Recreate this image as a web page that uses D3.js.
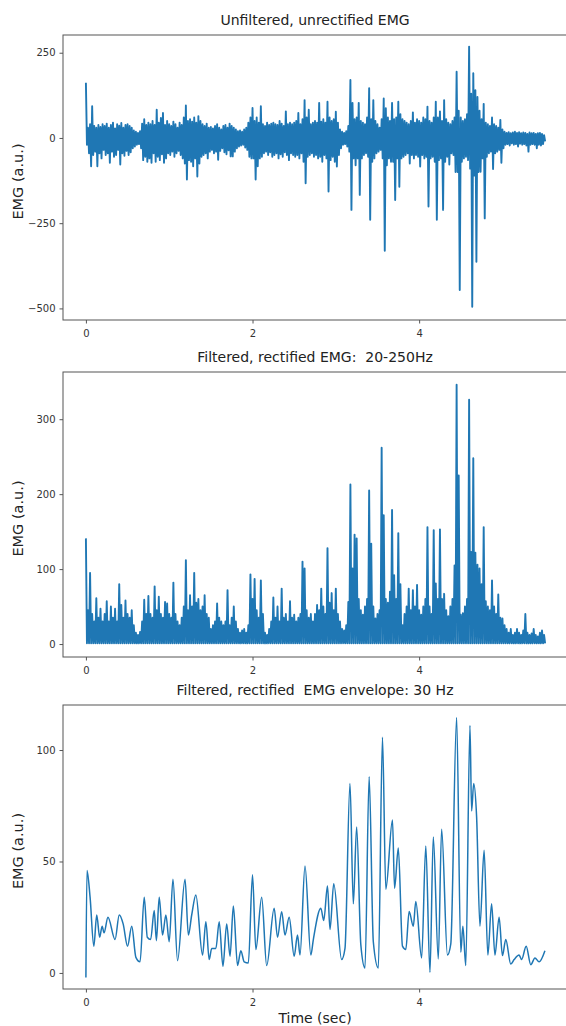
<!DOCTYPE html>
<html lang="en">
  <head>
    <meta charset="utf-8">
    <script src="https://cdn.jsdelivr.net/npm/d3@7"></script>
    <style>
      body { margin: 0; background: #fff; }
      svg text { font-family: "DejaVu Sans", sans-serif; white-space: pre; }
    </style>
  </head>
  <body>
  <script>

    // ---- data ----
    // raw / rectified traces are read per bin of dt seconds
    var dt = 0.025;

    var titles = ['Unfiltered, unrectified EMG',
                  'Filtered, rectified EMG:  20-250Hz',
                  'Filtered, rectified  EMG envelope: 30 Hz'];
    var yLabel = 'EMG (a.u.)';
    var xLabel = 'Time (sec)';

    var xTicks = [0, 2, 4];
    var xTickLabels = ['0', '2', '4'];

    var rawTicks = [250, 0, -250, -500];
    var rawTickLabels = ['250', '0', '\u2212250', '\u2212500'];
    var rectTicks = [0, 100, 200, 300];
    var rectTickLabels = ['0', '100', '200', '300'];
    var envTicks = [0, 50, 100];
    var envTickLabels = ['0', '50', '100'];

    // unfiltered signal: positive and negative excursion in each bin
    var rawHigh = [
      162, 30, 40, 93, 35, 30, 38, 32, 40, 35,
      42, 30, 38, 45, 28, 40, 36, 44, 30, 38,
      40, 35, 30, 22, 18, 15, 20, 42, 55, 38,
      45, 40, 50, 38, 83, 45, 59, 73, 38, 50,
      40, 35, 48, 40, 30, 45, 38, 60, 95, 50,
      55, 48, 60, 45, 64, 50, 40, 35, 42, 30,
      32, 28, 35, 40, 30, 25, 35, 38, 30, 42,
      35, 30, 25, 20, 22, 18, 25, 30, 45, 60,
      88, 50, 60, 45, 93, 40, 35, 45, 38, 42,
      45, 40, 38, 50, 42, 35, 78, 40, 45, 40,
      45, 50, 73, 40, 55, 111, 60, 83, 40, 45,
      50, 45, 103, 48, 55, 45, 106, 60, 50, 55,
      77, 45, 25, 18, 15, 20, 35, 170, 103, 55,
      60, 103, 50, 45, 40, 60, 146, 55, 111, 50,
      40, 30, 55, 116, 87, 60, 50, 103, 55, 60,
      106, 70, 55, 50, 45, 40, 50, 75, 45, 55,
      50, 45, 60, 55, 92, 50, 45, 60, 106, 60,
      78, 50, 111, 55, 45, 40, 50, 60, 194, 80,
      60, 50, 55, 70, 268, 130, 190, 140, 120, 80,
      55, 100, 45, 40, 35, 60, 40, 35, 30, 53,
      25, 18, 15, 17, 14, 16, 18, 15, 17, 14,
      16, 15, 12, 16, 14, 15, 12, 14, 15, 12, 8
    ];
    var rawLow = [
      -20, -45, -83, -50, -40, -83, -45, -60, -35, -50,
      -45, -73, -40, -55, -50, -35, -78, -45, -52, -38,
      -50, -42, -30, -25, -20, -18, -30, -65, -55, -70,
      -60, -73, -45, -70, -55, -65, -48, -73, -60, -45,
      -50, -40, -55, -45, -38, -50, -60, -75, -122, -65,
      -70, -83, -60, -113, -75, -55, -50, -45, -60, -40,
      -35, -45, -40, -64, -38, -30, -42, -48, -36, -54,
      -54, -40, -30, -25, -22, -20, -28, -35, -55, -60,
      -60, -122, -83, -60, -55, -45, -40, -50, -42, -55,
      -50, -45, -60, -48, -55, -42, -50, -65, -45, -50,
      -55, -50, -60, -45, -70, -133, -55, -50, -45, -55,
      -50, -60, -55, -70, -50, -60, -157, -65, -55, -70,
      -84, -50, -30, -20, -18, -25, -40, -211, -60, -80,
      -60, -167, -60, -50, -45, -55, -240, -70, -60, -45,
      -40, -35, -60, -331, -80, -60, -70, -70, -182, -60,
      -143, -60, -55, -50, -45, -75, -50, -60, -50, -55,
      -84, -50, -60, -55, -201, -60, -55, -70, -240, -65,
      -60, -211, -70, -55, -78, -45, -50, -100, -100, -446,
      -70, -60, -55, -65, -90, -495, -110, -363, -100, -99,
      -60, -236, -55, -45, -40, -91, -45, -40, -35, -73,
      -30, -20, -18, -22, -16, -20, -18, -25, -17, -20,
      -18, -22, -40, -20, -18, -20, -30, -20, -22, -18, -10
    ];

    // filtered + rectified: peak in each bin, the trace drops back to the floor between them
    var rectPeaks = [
      141, 45, 95, 40, 30, 61, 35, 47, 30, 40,
      57, 30, 50, 35, 47, 30, 80, 52, 35, 58,
      40, 35, 45, 25, 15, 12, 16, 30, 59, 40,
      64, 40, 35, 77, 45, 63, 40, 35, 56, 54,
      40, 35, 82, 40, 30, 25, 35, 50, 112, 45,
      65, 50, 95, 55, 60, 45, 50, 65, 40, 35,
      20, 25, 30, 54, 35, 30, 25, 30, 72, 25,
      35, 50, 30, 20, 15, 18, 20, 15, 25, 93,
      60, 87, 45, 35, 85, 40, 15, 12, 20, 30,
      62, 35, 50, 30, 74, 35, 40, 30, 57, 35,
      39, 30, 35, 40, 110, 101, 45, 35, 40, 30,
      40, 52, 45, 74, 50, 40, 128, 55, 68, 45,
      74, 40, 30, 20, 18, 25, 56, 213, 101, 146,
      141, 60, 45, 39, 50, 60, 205, 134, 50, 34,
      40, 45, 262, 172, 60, 55, 70, 179, 92, 60,
      148, 80, 25, 40, 50, 74, 45, 72, 50, 79,
      45, 39, 50, 60, 156, 50, 40, 152, 81, 60,
      153, 60, 67, 45, 37, 50, 60, 105, 346, 225,
      39, 41, 50, 60, 326, 123, 248, 122, 106, 101,
      80, 156, 57, 50, 45, 85, 50, 40, 66, 35,
      34, 25, 20, 15, 20, 12, 15, 20, 15, 12,
      18, 40, 15, 12, 14, 20, 12, 10, 15, 18, 12
    ];
    var rectFloor = 1;

    // envelope: turning points (time, value)
    var envT = [
      0, 0.013, 0.05, 0.095, 0.13, 0.165, 0.195, 0.217, 0.265, 0.35,
      0.40, 0.447, 0.50, 0.55, 0.60, 0.65, 0.70, 0.737, 0.777, 0.82,
      0.846, 0.88, 0.92, 0.96, 1.0, 1.045, 1.10, 1.19, 1.23, 1.27,
      1.32, 1.40, 1.44, 1.48, 1.51, 1.56, 1.60, 1.645, 1.69, 1.73,
      1.77, 1.82, 1.86, 1.90, 1.95, 2.0, 2.04, 2.11, 2.17, 2.26,
      2.30, 2.35, 2.39, 2.44, 2.50, 2.54, 2.57, 2.63, 2.70, 2.73,
      2.82, 2.855, 2.90, 2.93, 2.975, 3.07, 3.11, 3.17, 3.21, 3.25,
      3.30, 3.35, 3.40, 3.45, 3.51, 3.56, 3.60, 3.68, 3.705, 3.75,
      3.80, 3.84, 3.88, 3.93, 3.96, 4.03, 4.08, 4.13, 4.17, 4.23,
      4.27, 4.34, 4.38, 4.45, 4.50, 4.525, 4.56, 4.61, 4.63, 4.655,
      4.69, 4.73, 4.78, 4.825, 4.87, 4.91, 4.96, 5.0, 5.04, 5.10,
      5.14, 5.20, 5.23, 5.285, 5.34, 5.39, 5.44, 5.51
    ];
    var envV = [
      -2, 46, 34, 12, 26, 16, 21, 18, 25, 15,
      26, 22, 12, 21, 7, 5, 34, 16, 15, 28,
      14.5, 34, 17, 26, 14, 42, 5.5, 42, 17, 26,
      35, 8, 23, 6, 11, 11, 23, 3, 22, 7.5,
      30, 3.3, 10, 5, 4.5, 44, 10.5, 34, 3.3, 29,
      16, 27.5, 17, 25, 7.5, 17, 8, 48, 8, 15,
      29, 23.5, 39, 19.5, 40, 6, 11, 85, 31, 65.5,
      12.7, 2.2, 88, 14, 2.2, 105.7, 37.6, 68.6, 38, 56,
      12, 10.5, 27.6, 21, 32, 6.7, 57, 0.3, 61, 6.3,
      64.5, 8, 13, 114.6, 9.3, 21, 3.3, 111, 72.7, 85,
      70, 21, 55, 8, 31, 8, 25, 7.8, 15, 4,
      6, 8, 6, 12, 3.7, 6.7, 5, 10
    ];

    // ---- build point lists ----
    var rawPoints = [];
    rawHigh.forEach(function(v, i) {
      rawPoints.push({t: i * dt, v: v});
      rawPoints.push({t: i * dt + dt / 2, v: rawLow[i]});
    });
    var rectPoints = [];
    rectPeaks.forEach(function(v, i) {
      rectPoints.push({t: i * dt, v: v});
      rectPoints.push({t: i * dt + dt / 2, v: rectFloor});
    });
    var envPoints = envT.map(function(t, i) { return {t: t, v: envV[i]}; });

    // ---- layout ----
    var width = 566, height = 1026;
    var plotLeft = 63, plotRight = 567;   // right spine falls just outside the picture
    var spine = '#555', tickText = '#333', lineColor = '#1f77b4';

    var panels = [
      {title: titles[0], top: 35, bottom: 320, yDomain: [-534, 302],
       ticks: rawTicks, labels: rawTickLabels, points: rawPoints, curve: d3.curveLinear, lw: 1.9},
      {title: titles[1], top: 372, bottom: 657, yDomain: [-17.3, 363],
       ticks: rectTicks, labels: rectTickLabels, points: rectPoints, curve: d3.curveLinear, lw: 1.9},
      {title: titles[2], top: 705, bottom: 989, yDomain: [-7.2, 120.2],
       ticks: envTicks, labels: envTickLabels, points: envPoints, curve: d3.curveMonotoneX, lw: 1.5}
    ];

    var svg = d3.select('body').append('svg')
      .attr('width', width)
      .attr('height', height);

    var x = d3.scaleLinear().domain([-0.275, 5.775]).range([plotLeft, plotRight]);

    panels.forEach(function(p) {
      var y = d3.scaleLinear().domain(p.yDomain).range([p.bottom, p.top]);
      var g = svg.append('g');

      var line = d3.line()
        .x(function(d) { return x(d.t); })
        .y(function(d) { return y(d.v); })
        .curve(p.curve);

      g.append('path').datum(p.points)
        .attr('d', line)
        .attr('fill', 'none')
        .attr('stroke', lineColor)
        .attr('stroke-width', p.lw)
        .attr('stroke-linejoin', 'round');

      // frame
      g.append('rect')
        .attr('x', plotLeft).attr('y', p.top)
        .attr('width', plotRight - plotLeft)
        .attr('height', p.bottom - p.top)
        .attr('fill', 'none')
        .attr('stroke', spine)
        .attr('stroke-width', 1);

      var yAxis = d3.axisLeft(y).tickValues(p.ticks)
        .tickFormat(function(d, i) { return p.labels[i]; })
        .tickSize(3.5).tickPadding(4);
      var ya = g.append('g').attr('transform', 'translate(' + plotLeft + ',0)').call(yAxis);

      var xAxis = d3.axisBottom(x).tickValues(xTicks)
        .tickFormat(function(d, i) { return xTickLabels[i]; })
        .tickSize(3.5).tickPadding(6);
      var xa = g.append('g').attr('transform', 'translate(0,' + p.bottom + ')').call(xAxis);

      [ya, xa].forEach(function(a) {
        a.select('.domain').remove();
        a.selectAll('line').attr('stroke', spine);
        a.selectAll('text')
          .attr('fill', tickText)
          .style('font-size', '10px')
          .style('font-family', '"DejaVu Sans", sans-serif');
      });

      g.append('text')
        .attr('x', (plotLeft + plotRight) / 2)
        .attr('y', p.top - 10.5)
        .attr('text-anchor', 'middle')
        .attr('xml:space', 'preserve')
        .style('font-size', '14px')
        .attr('fill', '#222')
        .text(p.title);

      g.append('text')
        .attr('transform', 'translate(23,' + ((p.top + p.bottom) / 2 + 4) + ') rotate(-90)')
        .attr('text-anchor', 'middle')
        .style('font-size', '14.5px')
        .attr('fill', '#222')
        .text(yLabel);
    });

    svg.append('text')
      .attr('x', (plotLeft + plotRight) / 2)
      .attr('y', 1023)
      .attr('text-anchor', 'middle')
      .style('font-size', '14px')
      .attr('fill', '#222')
      .text(xLabel);

  </script>
  </body>
</html>
